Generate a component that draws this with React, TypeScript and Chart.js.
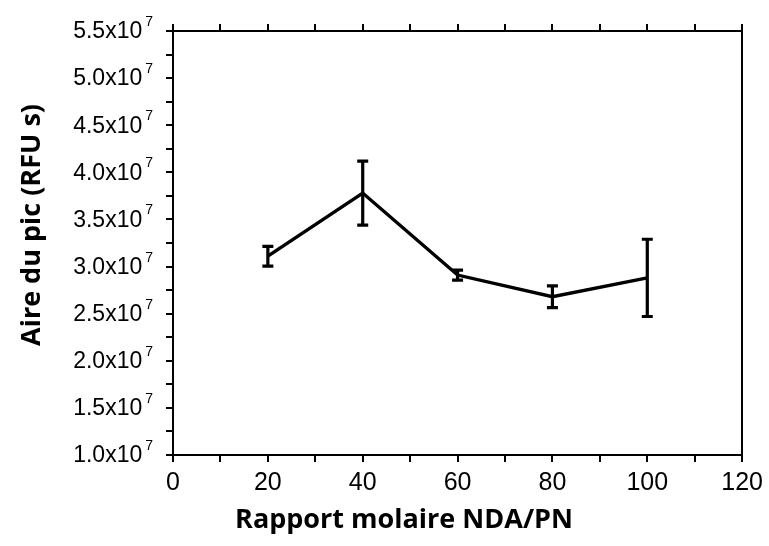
import React, { useEffect, useRef } from "react";
import { Chart, registerables } from "chart.js";

Chart.register(...registerables);

// ---- Data ----
const ratios = [20, 40, 60, 80, 100];
const peakAreas = [3.11e7, 3.78e7, 2.91e7, 2.68e7, 2.88e7];
const peakErrors = [0.105e7, 0.34e7, 0.053e7, 0.115e7, 0.41e7];
const xTickLabels = ["0", "20", "40", "60", "80", "100", "120"];
const yTickMantissas = ["1.0", "1.5", "2.0", "2.5", "3.0", "3.5", "4.0", "4.5", "5.0", "5.5"];
const yTickBase = "x10";
const yTickExponent = "7";
const xTitle = "Rapport molaire NDA/PN";
const yTitle = "Aire du pic (RFU s)";

const W = 769;
const H = 546;

const errorBarPlugin = {
  id: "errorBars",
  afterDatasetsDraw(chart: any) {
    const { ctx } = chart;
    const x = chart.scales.x;
    const y = chart.scales.y;
    ctx.save();
    ctx.strokeStyle = "#000";
    ctx.lineWidth = 3.2;
    ctx.lineCap = "butt";
    ratios.forEach((r, i) => {
      const px = x.getPixelForValue(r);
      const top = y.getPixelForValue(peakAreas[i] + peakErrors[i]);
      const bot = y.getPixelForValue(peakAreas[i] - peakErrors[i]);
      const hw = 5.5;
      ctx.beginPath();
      ctx.moveTo(px, top);
      ctx.lineTo(px, bot);
      ctx.moveTo(px - hw, top);
      ctx.lineTo(px + hw, top);
      ctx.moveTo(px - hw, bot);
      ctx.lineTo(px + hw, bot);
      ctx.stroke();
    });
    ctx.restore();
  },
};

// y tick labels with a true superscript exponent, placed from the scale's own ticks
const yLabelPlugin = {
  id: "yLabels",
  afterDraw(chart: any) {
    const { ctx } = chart;
    const y = chart.scales.y;
    const right = y.right - 7 - 16;
    ctx.save();
    ctx.fillStyle = "#000";
    ctx.textAlign = "right";
    y.ticks.forEach((t: any) => {
      const n = Math.round(t.value / 1e6);
      if (n % 5 !== 0) return;
      const idx = (n - 10) / 5;
      const label = yTickMantissas[idx];
      if (!label) return;
      const py = y.getPixelForValue(t.value);
      ctx.font = '14px "Liberation Sans", Arial, sans-serif';
      ctx.textBaseline = "alphabetic";
      ctx.fillText(yTickExponent, right + 3, py - 5);
      const ew = ctx.measureText(yTickExponent).width;
      ctx.font = '23px "Liberation Sans", Arial, sans-serif';
      ctx.textBaseline = "middle";
      ctx.fillText(label + yTickBase, right - ew, py + 1);
    });
    ctx.restore();
  },
};

const titlesPlugin = {
  id: "axisTitles",
  afterDraw(chart: any) {
    const { ctx } = chart;
    ctx.save();
    ctx.fillStyle = "#000";
    ctx.font = 'bold 27px "Open Sans", "DejaVu Sans", sans-serif';
    ctx.textAlign = "center";
    ctx.textBaseline = "middle";
    ctx.fillText(xTitle, 404, 520);
    ctx.translate(32, 225);
    ctx.rotate(-Math.PI / 2);
    ctx.fillText(yTitle, 0, 0);
    ctx.restore();
  },
};

const black = "#000";

export default function App() {
  const ref = useRef<HTMLCanvasElement | null>(null);

  useEffect(() => {
    if (!ref.current) return;
    const gridOpts = {
      drawOnChartArea: false,
      drawTicks: true,
      tickLength: 7,
      color: black,
      lineWidth: 2,
    };
    const borderOpts = { display: true, color: black, width: 2 };
    const chart = new Chart(ref.current, {
      type: "line",
      data: {
        datasets: [
          {
            data: ratios.map((r, i) => ({ x: r, y: peakAreas[i] })),
            borderColor: black,
            borderWidth: 3.4,
            pointRadius: 0,
            tension: 0,
            fill: false,
          },
        ],
      },
      options: {
        responsive: false,
        animation: false,
        layout: { padding: 0 },
        plugins: {
          legend: { display: false },
          tooltip: { enabled: false },
          title: { display: false },
        },
        scales: {
          x: {
            type: "linear",
            position: "bottom",
            min: 0,
            max: 120,
            ticks: {
              stepSize: 10,
              autoSkip: false,
              maxRotation: 0,
              color: black,
              padding: 6,
              font: { family: '"Liberation Sans", Arial, sans-serif', size: 25 },
              callback: (v: any) => {
                const idx = xTickLabels.indexOf(String(v));
                return Number(v) % 20 === 0 && idx >= 0 ? xTickLabels[idx] : "";
              },
            },
            grid: gridOpts,
            border: borderOpts,
            afterFit: (s: any) => {
              s.height = 91;
            },
          },
          xTop: {
            type: "linear",
            position: "top",
            min: 0,
            max: 120,
            ticks: { display: false, stepSize: 10, autoSkip: false },
            grid: gridOpts,
            border: borderOpts,
            afterFit: (s: any) => {
              s.height = 31;
            },
          },
          y: {
            type: "linear",
            position: "left",
            min: 1e7,
            max: 5.5e7,
            ticks: {
              display: false,
              stepSize: 2.5e6,
              autoSkip: false,
            },
            grid: gridOpts,
            border: borderOpts,
            afterFit: (s: any) => {
              s.width = 173;
            },
          },
          yRight: {
            type: "linear",
            position: "right",
            min: 1e7,
            max: 5.5e7,
            ticks: { display: false },
            grid: { drawOnChartArea: false, drawTicks: false, color: black, lineWidth: 2 },
            border: borderOpts,
            afterFit: (s: any) => {
              s.width = 22;
            },
          },
        },
      },
      plugins: [errorBarPlugin, yLabelPlugin, titlesPlugin],
    } as any);
    return () => chart.destroy();
  }, []);

  return (
    <div style={{ position: "fixed", left: 0, top: 0, width: W, height: H, background: "#fff" }}>
      <canvas ref={ref} width={W} height={H} style={{ display: "block" }} />
    </div>
  );
}
